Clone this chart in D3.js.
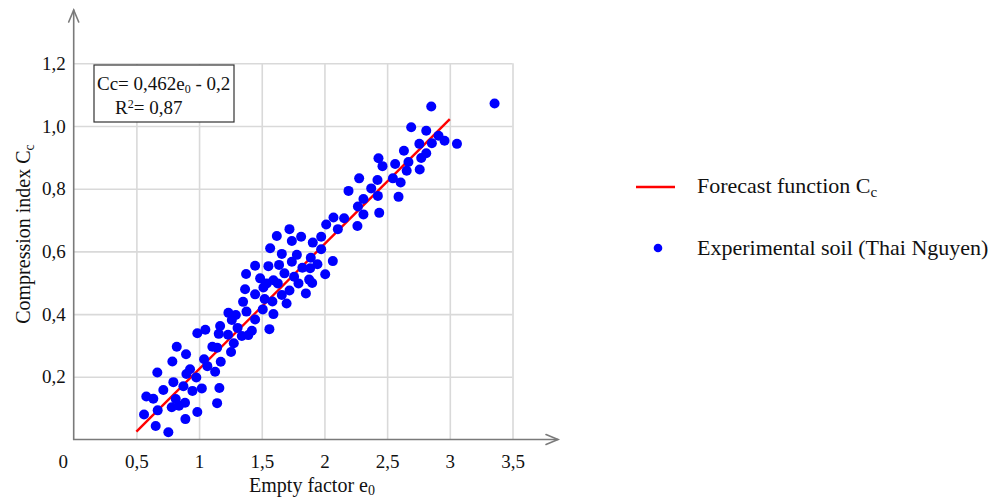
<!DOCTYPE html>
<html>
<head>
<meta charset="utf-8">
<script src="https://cdn.jsdelivr.net/npm/d3@7"></script>
<style>
  body { margin: 0; background: #fff; }
  svg { display: block; font-family: "Liberation Serif", "Times New Roman", serif; }
  text { white-space: pre; }
</style>
</head>
<body>
<svg id="chart" width="993" height="500"></svg>
<script>
// Void ratio e0 of each soil sample
const eValues = [
  0.755, 0.654, 0.561, 0.670, 0.579, 0.635, 0.715, 0.667, 0.787, 0.822,
  0.896, 0.795, 0.814, 0.782, 0.840, 0.888, 0.875, 0.891, 0.947, 0.986,
  0.928, 0.899, 0.978, 1.022, 1.144, 1.162, 1.040, 1.066, 1.128, 1.173,
  0.986, 1.050, 1.106, 1.144, 1.168, 1.157, 1.231, 1.255, 1.277, 1.307,
  1.341, 1.393, 1.421, 1.234, 1.293, 1.261, 1.447, 1.561, 1.351, 1.378,
  1.508, 1.593, 1.523, 1.585, 1.660, 1.698, 1.367, 1.447, 1.513, 1.721,
  1.852, 1.375, 1.487, 1.540, 1.593, 1.628, 1.681, 1.758, 1.793, 1.878,
  1.902, 2.006, 1.447, 1.553, 1.638, 1.740, 1.824, 1.886, 1.944, 1.567,
  1.660, 1.780, 1.891, 2.067, 1.620, 1.721, 1.740, 1.814, 1.907, 1.974,
  1.974, 2.014, 2.072, 2.157, 2.107, 2.263, 2.311, 2.437, 2.267, 2.311,
  2.192, 2.373, 2.426, 2.591, 2.277, 2.423, 2.546, 2.608, 2.431, 2.463,
  2.564, 2.656, 2.760, 2.670, 2.772, 2.634, 2.812, 2.757, 2.857, 2.692,
  2.812, 2.910, 2.958, 3.057, 2.852, 3.357
];
// Measured compression index Cc of the same samples
const ccValues = [
  0.023, 0.043, 0.080, 0.093, 0.137, 0.130, 0.158, 0.214, 0.249, 0.296,
  0.272, 0.183, 0.129, 0.103, 0.108, 0.117, 0.170, 0.065, 0.155, 0.088,
  0.224, 0.209, 0.198, 0.163, 0.116, 0.164, 0.256, 0.234, 0.216, 0.248,
  0.339, 0.350, 0.296, 0.293, 0.362, 0.337, 0.334, 0.279, 0.307, 0.356,
  0.330, 0.333, 0.347, 0.404, 0.397, 0.381, 0.383, 0.352, 0.439, 0.408,
  0.415, 0.400, 0.448, 0.440, 0.461, 0.434, 0.479, 0.463, 0.485, 0.475,
  0.466, 0.528, 0.514, 0.498, 0.508, 0.498, 0.530, 0.519, 0.498, 0.510,
  0.499, 0.527, 0.554, 0.553, 0.557, 0.567, 0.548, 0.546, 0.559, 0.610,
  0.592, 0.589, 0.580, 0.569, 0.649, 0.671, 0.633, 0.647, 0.628, 0.647,
  0.607, 0.686, 0.708, 0.706, 0.671, 0.681, 0.718, 0.723, 0.743, 0.767,
  0.793, 0.801, 0.777, 0.774, 0.833, 0.828, 0.833, 0.820, 0.897, 0.872,
  0.879, 0.857, 0.861, 0.885, 0.898, 0.921, 0.913, 0.943, 0.945, 0.996,
  0.985, 0.969, 0.953, 0.943, 1.062, 1.072
];
// Forecast line end points
const fitE = [0.5, 3.0];
const fitCc = [0.025, 1.022];

// Axis ticks
const xTicks = [0, 0.5, 1, 1.5, 2, 2.5, 3, 3.5];
const yTicks = [0.2, 0.4, 0.6, 0.8, 1.0, 1.2];
const xTickLabels = ["0", "0,5", "1", "1,5", "2", "2,5", "3", "3,5"];
const yTickLabels = ["0,2", "0,4", "0,6", "0,8", "1,0", "1,2"];

const svg = d3.select("#chart");
const x = d3.scaleLinear().domain([0, 3.5]).range([73.7, 512.5]);
const y = d3.scaleLinear().domain([0, 1.2]).range([439.5, 63.3]);

const axisColor = "#7a7a7a";
const gridColor = "#d9d9d9";

// Grid
svg.append("g")
  .attr("transform", `translate(0,${y(0)})`)
  .call(d3.axisBottom(x).tickValues(xTicks.filter(v => v > 0))
    .tickSize(-(y(0) - y(1.2))).tickFormat(""))
  .call(g => g.select(".domain").remove())
  .call(g => g.selectAll("line").attr("stroke", gridColor).attr("stroke-width", 1.6));

svg.append("g")
  .attr("transform", `translate(${x(0)},0)`)
  .call(d3.axisLeft(y).tickValues(yTicks)
    .tickSize(-(x(3.5) - x(0))).tickFormat(""))
  .call(g => g.select(".domain").remove())
  .call(g => g.selectAll("line").attr("stroke", gridColor).attr("stroke-width", 1.6));

// Tick labels
svg.append("g")
  .attr("transform", `translate(0,${y(0)})`)
  .call(d3.axisBottom(x).tickValues(xTicks).tickSize(0).tickPadding(15)
    .tickFormat((d, i) => xTickLabels[i]))
  .call(g => g.select(".domain").remove())
  .call(g => g.selectAll("text")
    .attr("font-family", "Liberation Serif, Times New Roman, serif")
    .attr("font-size", 19).attr("fill", "#111")
    .attr("dx", d => d === 0 ? -11 : 0));

svg.append("g")
  .attr("transform", `translate(${x(0)},0)`)
  .call(d3.axisLeft(y).tickValues(yTicks).tickSize(0).tickPadding(8)
    .tickFormat((d, i) => yTickLabels[i]))
  .call(g => g.select(".domain").remove())
  .call(g => g.selectAll("text")
    .attr("font-family", "Liberation Serif, Times New Roman, serif")
    .attr("font-size", 19).attr("fill", "#111"));

// Axis lines with open arrow heads
const axes = svg.append("g").attr("stroke", axisColor).attr("stroke-width", 1.6)
  .attr("fill", "none").attr("stroke-linecap", "round");
axes.append("line").attr("x1", x(0)).attr("y1", y(0)).attr("x2", 558).attr("y2", y(0));
axes.append("path").attr("d", `M546,${y(0) - 5}L558,${y(0)}L546,${y(0) + 5}`);
axes.append("line").attr("x1", x(0)).attr("y1", y(0)).attr("x2", x(0)).attr("y2", 10);
axes.append("path").attr("d", `M${x(0) - 5},22L${x(0)},10L${x(0) + 5},22`);

// Forecast line
svg.append("path")
  .datum(d3.zip(fitE, fitCc))
  .attr("fill", "none").attr("stroke", "#ff0000").attr("stroke-width", 2.4)
  .attr("d", d3.line().x(d => x(d[0])).y(d => y(d[1])));

// Samples
svg.append("g").selectAll("circle")
  .data(d3.zip(eValues, ccValues))
  .join("circle")
  .attr("cx", d => x(d[0])).attr("cy", d => y(d[1]))
  .attr("r", 5).attr("fill", "#0000ff");

// Equation box
const eq = svg.append("g").attr("font-size", 19).attr("fill", "#111");
eq.append("rect").attr("x", 94).attr("y", 65).attr("width", 140).attr("height", 57)
  .attr("fill", "#fff").attr("stroke", "#333").attr("stroke-width", 1.2);
const l1 = eq.append("text").attr("x", 97).attr("y", 90);
l1.append("tspan").text("Cc= 0,462e");
l1.append("tspan").attr("font-size", 12).attr("dy", 3).text("0");
l1.append("tspan").attr("dy", -3).text(" - 0,2");
const l2 = eq.append("text").attr("x", 115).attr("y", 114);
l2.append("tspan").text("R");
l2.append("tspan").attr("font-size", 12).attr("dy", -6).text("2");
l2.append("tspan").attr("dy", 6).text("= 0,87");

// Axis titles
const xt = svg.append("text").attr("x", 312).attr("y", 492).attr("text-anchor", "middle")
  .attr("font-size", 20).attr("fill", "#111");
xt.append("tspan").text("Empty factor e");
xt.append("tspan").attr("font-size", 14).attr("dy", 3).text("0");

const yt = svg.append("text").attr("transform", "translate(30,234) rotate(-90)")
  .attr("text-anchor", "middle").attr("font-size", 20).attr("fill", "#111");
yt.append("tspan").text("Compression index C");
yt.append("tspan").attr("font-size", 14).attr("dy", 4).text("c");

// Legend
const lg = svg.append("g").attr("font-size", 22).attr("fill", "#111");
lg.append("line").attr("x1", 636).attr("x2", 675).attr("y1", 187).attr("y2", 187)
  .attr("stroke", "#ff0000").attr("stroke-width", 2.4);
const lt1 = lg.append("text").attr("x", 697).attr("y", 193);
lt1.append("tspan").text("Forecast function C");
lt1.append("tspan").attr("font-size", 15).attr("dy", 4).text("c");
lg.append("circle").attr("cx", 658).attr("cy", 248).attr("r", 4.3).attr("fill", "#0000ff");
lg.append("text").attr("x", 697).attr("y", 255).text("Experimental soil (Thai Nguyen)");
</script>
</body>
</html>
